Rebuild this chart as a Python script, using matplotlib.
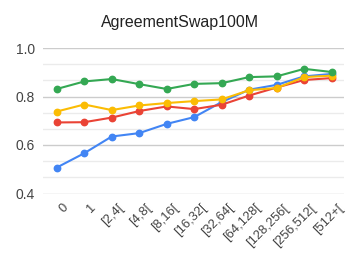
import matplotlib
matplotlib.use('Agg')
import matplotlib.pyplot as plt
import matplotlib.transforms as mtransforms
from matplotlib.ticker import MultipleLocator

categories = ['0', '1', '[2,4[', '[4,8[', '[8,16[', '[16,32[', '[32,64[',
              '[64,128[', '[128,256[', '[256,512[', '[512+[']

blue = [0.507, 0.566, 0.635, 0.649, 0.687, 0.715, 0.777, 0.828, 0.848, 0.883, 0.893]
red = [0.693, 0.694, 0.713, 0.740, 0.759, 0.748, 0.766, 0.804, 0.837, 0.868, 0.876]
yellow = [0.738, 0.767, 0.744, 0.763, 0.773, 0.781, 0.788, 0.826, 0.835, 0.880, 0.886]
green = [0.831, 0.862, 0.872, 0.851, 0.831, 0.852, 0.855, 0.880, 0.883, 0.914, 0.901]

series = [(blue, '#4285F4'), (red, '#EA4335'), (yellow, '#FBBC04'), (green, '#34A853')]

plt.rcParams['font.family'] = ['Liberation Sans', 'DejaVu Sans']

fig = plt.figure(figsize=(3.57, 2.61), dpi=100)
ax = fig.add_axes([43 / 357, 1 - 193.5 / 261, 301 / 357, 145.5 / 261])

x = list(range(len(categories)))
for values, color in series:
	ax.plot(x, values, '-o', color=color, linewidth=1.5, markersize=4.6, zorder=3)

ax.set_ylim(0.4, 1.0)
ax.set_xlim(-0.5, 10.45)
ax.yaxis.set_major_locator(MultipleLocator(0.2))
ax.yaxis.set_minor_locator(MultipleLocator(0.2 / 3))
ax.yaxis.set_major_formatter(matplotlib.ticker.FormatStrFormatter('%.1f'))
ax.grid(axis='y', which='major', color='#cccccc', linewidth=1)
ax.grid(axis='y', which='minor', color='#ebebeb', linewidth=1)
ax.set_axisbelow(True)

ax.set_xticks(x)
ax.set_xticklabels(categories, rotation=45, ha='right', rotation_mode='anchor',
				   fontsize=9.3, color='#444444')
ax.tick_params(axis='x', length=0, pad=6)
ax.tick_params(axis='y', which='both', length=0, pad=6, labelsize=10, labelcolor='#444444')

# nudge rotated labels right a little, like the sheets chart
shift = mtransforms.ScaledTranslation(6 / 100, 0, fig.dpi_scale_trans)
for lbl in ax.get_xticklabels():
	lbl.set_transform(lbl.get_transform() + shift)

for side in ['top', 'right', 'left', 'bottom']:
	ax.spines[side].set_visible(False)

fig.text(0.505, 1 - 22 / 261, 'AgreementSwap100M', ha='center', va='center',
		 fontsize=11.5, color='#222222')

plt.savefig('out.png', dpi=100)
